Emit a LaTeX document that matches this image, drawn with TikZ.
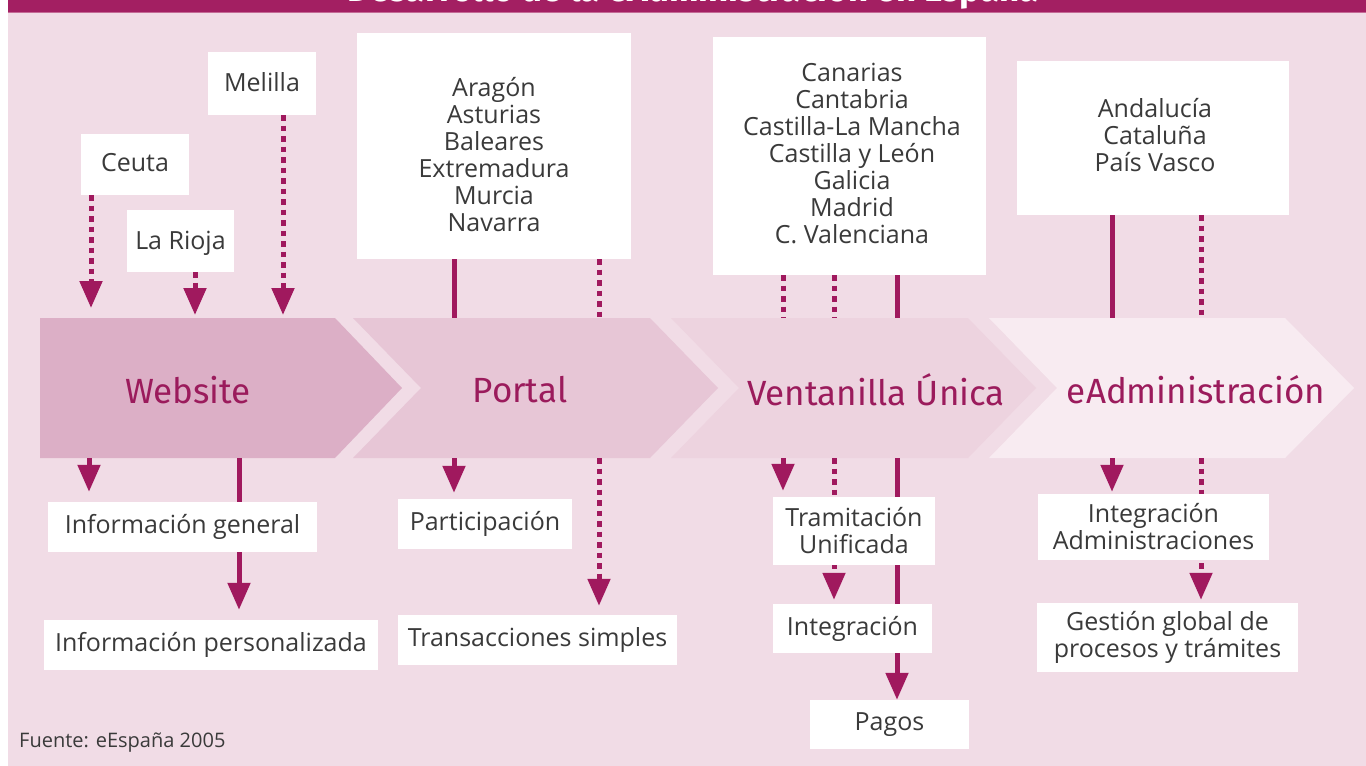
\documentclass[tikz,border=0pt]{standalone}
\usepackage{fontspec}
\setmainfont{Open Sans}
\newfontfamily\chevfont{Fira Sans}
\usetikzlibrary{arrows.meta}
\definecolor{barcol}{HTML}{A31F62}
\definecolor{barline}{HTML}{C46A96}
\definecolor{mag}{HTML}{A0195E}
\definecolor{bgpink}{HTML}{F1DCE6}
\definecolor{chevA}{HTML}{DCAFC6}
\definecolor{chevB}{HTML}{E7C6D6}
\definecolor{chevC}{HTML}{EDD3DF}
\definecolor{chevD}{HTML}{F8EBF1}
\definecolor{chevtxt}{HTML}{9B1B5C}
\definecolor{txt}{HTML}{3A3A3A}
\pgfdeclarelayer{back}
\pgfdeclarelayer{mid}
\pgfsetlayers{back,mid,main}
\newcommand\topconn[4]{\draw[#1] (#2) ++(#3,0) coordinate (tmp) -- (tmp |- #4);}
\newcommand\botconn[4]{\draw[#1] (#2) ++(#3,0) coordinate (tmp) (tmp |- #4) -- (tmp);}
\begin{document}
\begin{tikzpicture}[x=1pt,y=-1pt,
  box/.style={fill=white, inner sep=0pt, align=center, text=txt,
    font=\fontsize{25}{27}\selectfont},
  boxtext/.style={inner sep=0pt, align=center, text=txt,
    font=\fontsize{25}{27}\selectfont},
  sol/.style={draw=mag, line width=5pt},
  dot/.style={draw=mag, line width=5pt, dash pattern=on 5.5pt off 5pt},
  tip/.style={-{Triangle[width=22pt,length=27pt]}},
  chev/.style={text=chevtxt, font=\chevfont\fontsize{35}{40}\selectfont}]
\useasboundingbox (0,0) rectangle (1366,766);
\clip (0,0) rectangle (1366,766);
\begin{pgfonlayer}{back}
  \fill[white] (0,0) rectangle (1366,766);
  \fill[bgpink] (8,12) rectangle (1366,766);
  \fill[barcol] (8,0) rectangle (1366,12);
  \draw[barline, line width=1.5pt] (8,12.5) -- (1366,12.5);
  \fill[chevA] (40,318) -- (335,318) -- (402,388) -- (335,458) -- (40,458) -- cycle;
  \fill[chevB] (353,318) -- (650,318) -- (718,388) -- (650,458) -- (353,458) -- (421,388) -- cycle;
  \fill[chevC] (671,318) -- (968,318) -- (1036,388) -- (968,458) -- (671,458) -- (739,388) -- cycle;
  \fill[chevD] (989,318) -- (1285,318) -- (1354,388) -- (1285,458) -- (989,458) -- (1057,388) -- cycle;
\end{pgfonlayer}
\coordinate (ct) at (0,318);
\coordinate (cb) at (0,458);
% title (cut off at the top edge, as in the reference)
\node[anchor=base, text=white, inner sep=0pt, font=\chevfont\bfseries\fontsize{35}{38}\selectfont] (title) at (693,1) {Desarrollo de la eAdministración en España};
% stage labels
\node[chev] (website) at (188,390) {Website};
\node[chev] (portal) at (520,390) {Portal};
\node[chev] (ventanilla) at (876,390) {Ventanilla Única};
\node[chev] (eadmin) at (1196,390) {eAdministración};
% top boxes
\node[box, minimum width=108pt, minimum height=61pt] (ceuta) at (135,164.5) {};
\node[boxtext] (ceutatext) at (135,163) {Ceuta};
\node[box, minimum width=107pt, minimum height=62pt] (rioja) at (180.5,241) {};
\node[boxtext] (riojatext) at (180.5,243.5) {La Rioja};
\node[box, minimum width=108pt, minimum height=63pt] (melilla) at (262,83.5) {};
\node[boxtext] (melillatext) at (262,82.5) {Melilla};
\node[box, minimum width=274pt, minimum height=226pt] (portalbox) at (494,146) {};
\node[boxtext] (portaltext) at (494,155) {Aragón\\Asturias\\Baleares\\Extremadura\\Murcia\\Navarra};
\node[box, minimum width=273pt, minimum height=238pt] (ventbox) at (849.5,156) {};
\node[boxtext] (venttext) at (852,153) {Canarias\\Cantabria\\Castilla-La Mancha\\Castilla y León\\Galicia\\Madrid\\C. Valenciana};
\node[box, minimum width=272pt, minimum height=154pt] (eadmbox) at (1153,138) {};
\node[boxtext] (eadmtext) at (1155,135) {Andalucía\\Cataluña\\País Vasco};
% bottom boxes
\node[box, minimum width=269pt, minimum height=50pt] (infgen) at (182.5,527) {Información general};
\node[box, minimum width=334pt, minimum height=50pt] (infpers) at (211,645) {Información personalizada};
\node[box, minimum width=174pt, minimum height=50pt] (particip) at (485,524) {Participación};
\node[box, minimum width=279pt, minimum height=50pt] (transac) at (537.5,640) {Transacciones simples};
\node[box, minimum width=162pt, minimum height=68pt] (tramit) at (854,531) {Tramitación\\Unificada};
\node[box, minimum width=159pt, minimum height=49pt] (integ) at (852.5,628.5) {Integración};
\node[box, minimum width=159pt, minimum height=49pt] (pagos) at (889.5,724.5) {Pagos};
\node[box, minimum width=231pt, minimum height=66pt] (integadm) at (1153.5,527) {Integración\\Administraciones};
\node[box, minimum width=261pt, minimum height=69pt] (gestion) at (1167.5,637.5) {Gestión global de\\procesos y trámites};
\node[anchor=west, inner sep=0pt, text=txt, font=\fontsize{20}{22}\selectfont] (fuente) at (19,743) {Fuente: eEspaña 2005};
% connectors
\begin{pgfonlayer}{mid}
  \topconn{dot,tip,shorten >=10pt}{ceuta.south}{-44}{ct}
  \topconn{dot,tip,shorten >=3pt}{rioja.south}{14.5}{ct}
  \topconn{dot,tip,shorten >=3pt}{melilla.south}{21}{ct}
  \topconn{sol}{portalbox.south}{-40}{ct}
  \topconn{dot}{portalbox.south}{105}{ct}
  \topconn{dot}{ventbox.south}{-66.5}{ct}
  \topconn{dot}{ventbox.south}{-15.5}{ct}
  \topconn{sol}{ventbox.south}{47.5}{ct}
  \topconn{sol}{eadmbox.south}{-41}{ct}
  \topconn{dot}{eadmbox.south}{48}{ct}
  \botconn{sol,tip,shorten >=10pt}{infgen.north}{-93.5}{cb}
  \botconn{sol,tip,shorten >=10pt}{infpers.north}{28}{cb}
  \botconn{sol,tip,shorten >=6pt}{particip.north}{-31}{cb}
  \botconn{dot,tip,shorten >=9pt}{transac.north}{61.5}{cb}
  \botconn{dot,tip,shorten >=6pt}{tramit.north}{-71}{cb}
  \botconn{dot,tip,shorten >=4pt}{integ.north}{-18.5}{cb}
  \botconn{sol,tip}{pagos.north}{7.5}{cb}
  \botconn{sol,tip,shorten >=2pt}{integadm.north}{-41.5}{cb}
  \botconn{dot,tip,shorten >=3pt}{gestion.north}{33.5}{cb}
\end{pgfonlayer}
\end{tikzpicture}
\end{document}
